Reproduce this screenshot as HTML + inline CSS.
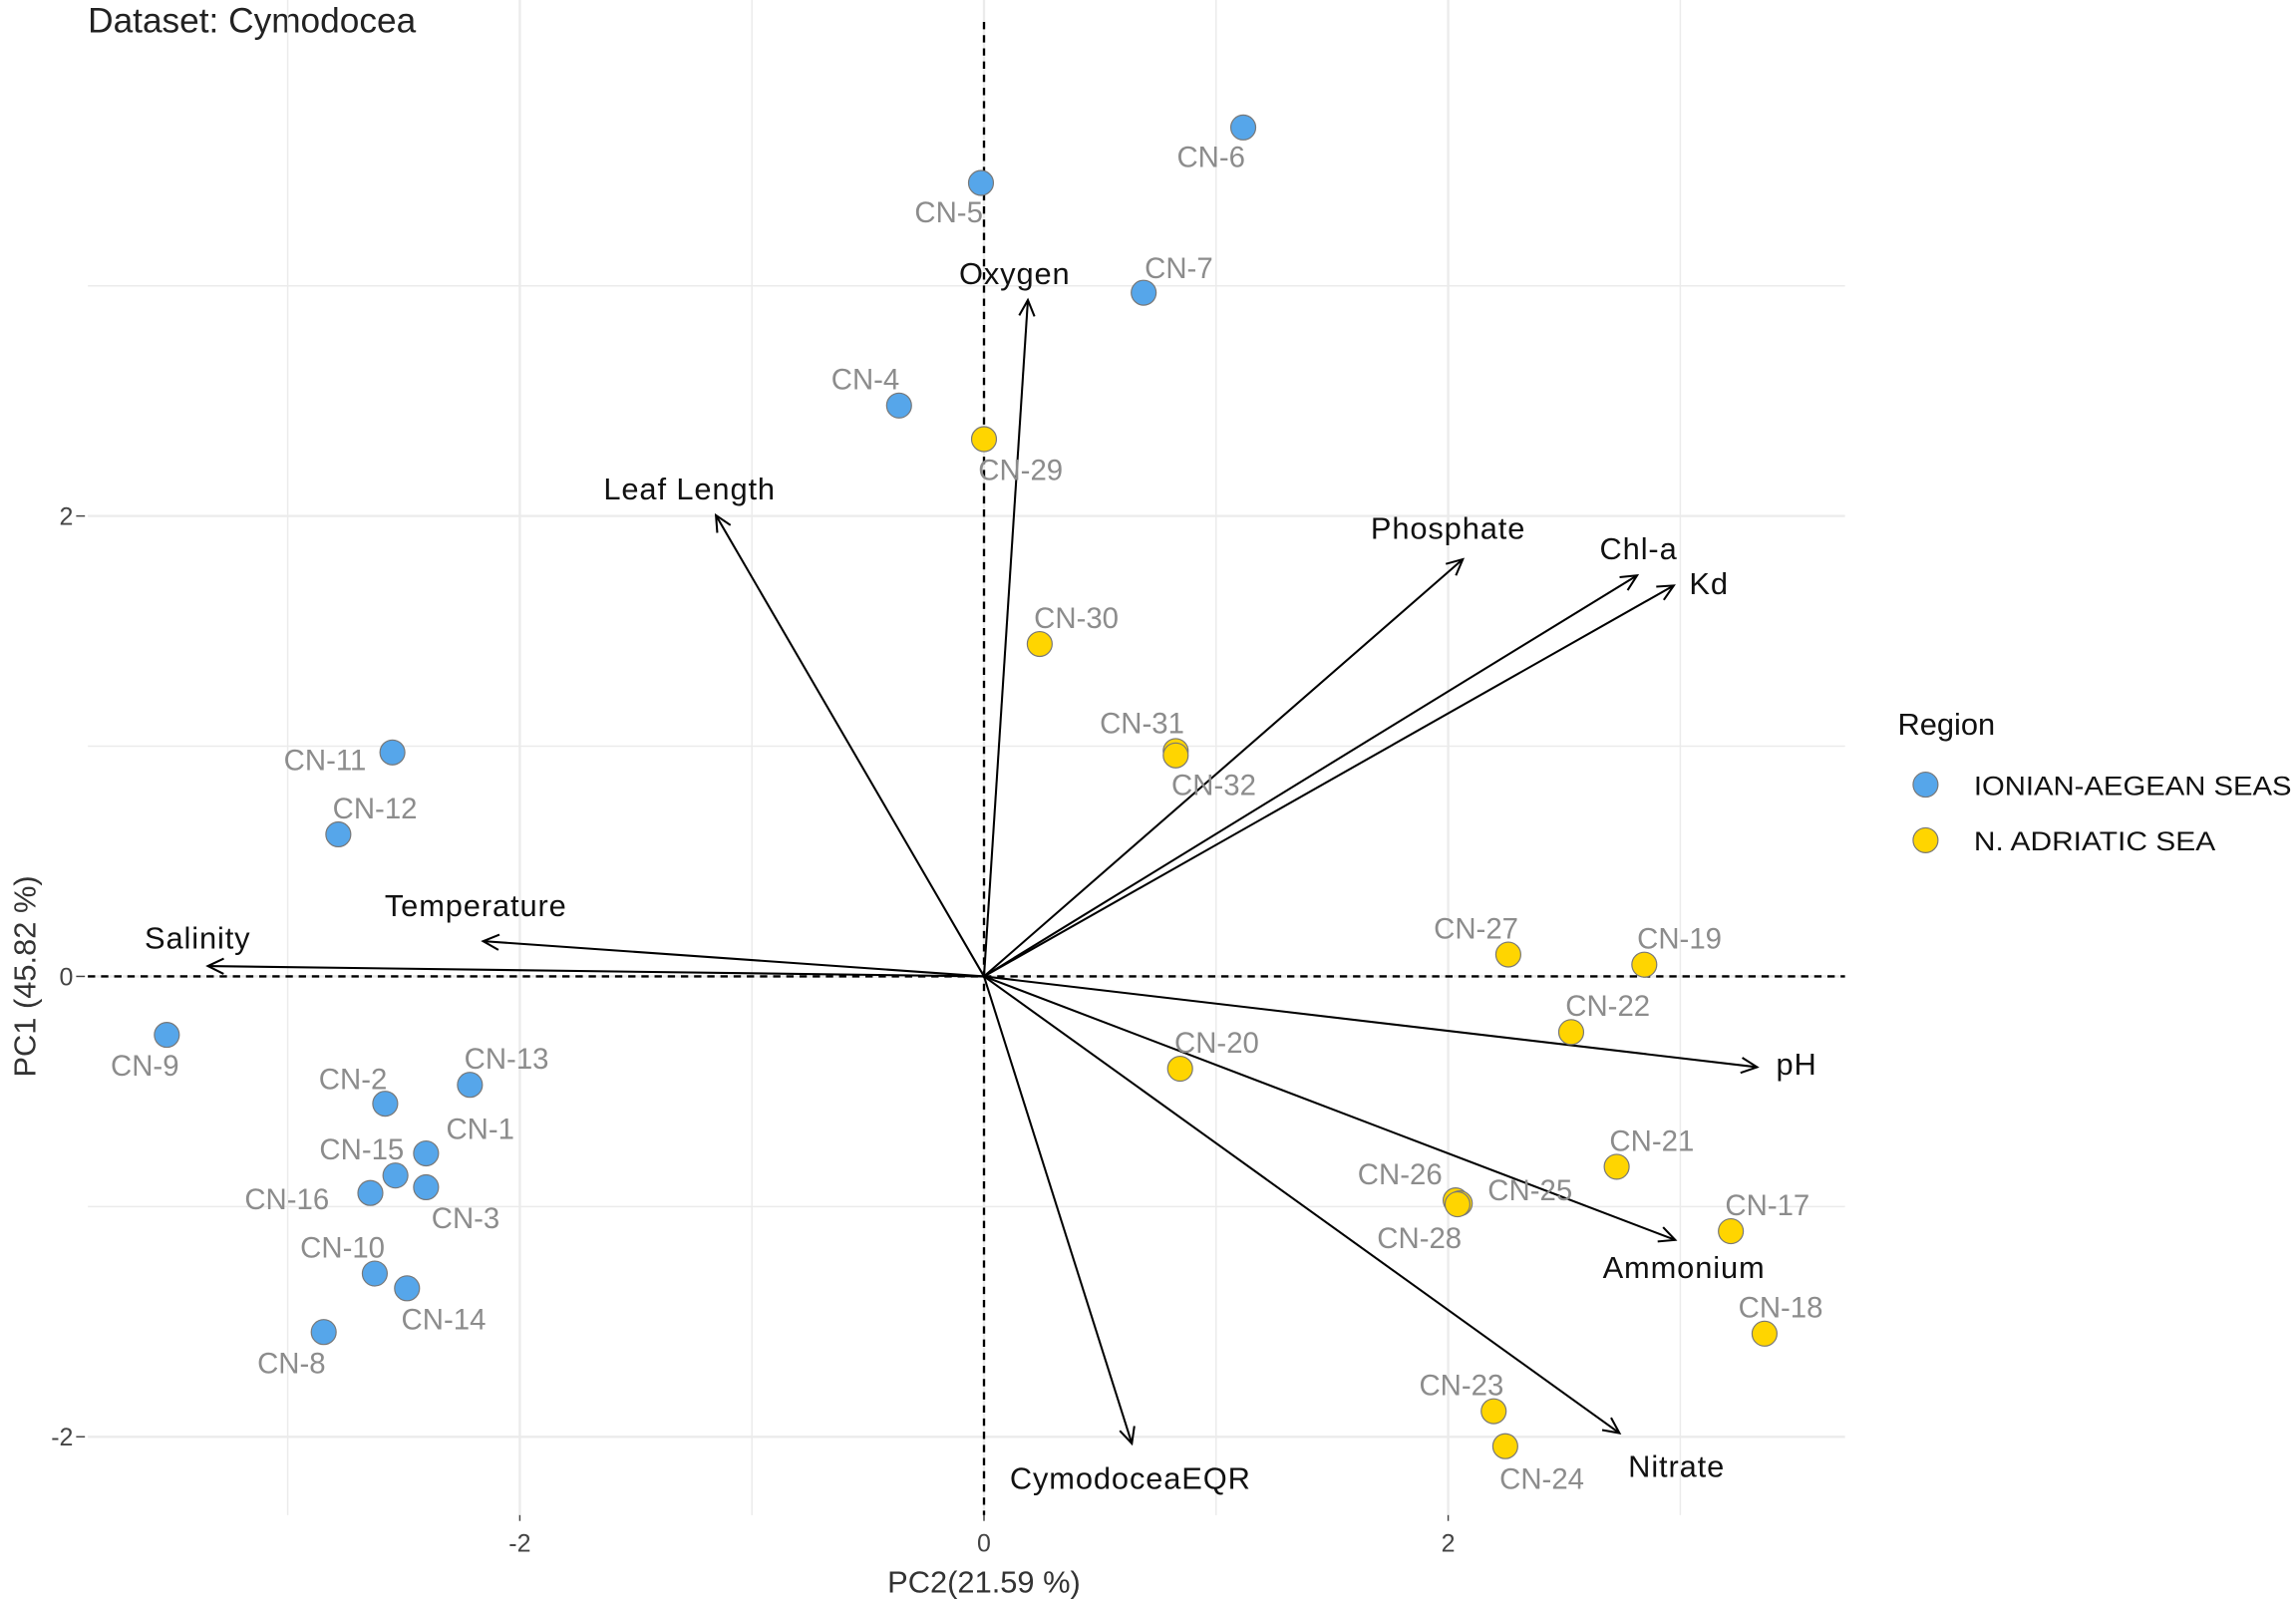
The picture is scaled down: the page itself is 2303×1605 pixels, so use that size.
<!DOCTYPE html>
<html><head><meta charset="utf-8"><style>
html,body{margin:0;padding:0;background:#fff;}
svg{display:block;font-family:"Liberation Sans",sans-serif;}
</style></head><body>
<svg id="chart" width="2303" height="1605" viewBox="0 0 1568 1093" preserveAspectRatio="none" xmlns="http://www.w3.org/2000/svg">
<text x="60" y="22" font-size="24" fill="#222">Dataset: Cymodocea</text>
<g id="grid"></g>
<g id="axes"></g>
<g id="arrows"></g>
<g id="points"></g>
<text x="672" y="1088" font-size="21" fill="#333" text-anchor="middle">PC2(21.59 %)</text>
<text transform="translate(24,667) rotate(-90)" font-size="21" fill="#333" text-anchor="middle">PC1 (45.82 %)</text>
<g>
<text x="1296" y="502" font-size="21" fill="#111">Region</text>
<g>
<circle cx="1315" cy="536" r="8.5" fill="#56a6ea" stroke="#777" stroke-width="0.8"/>
<text x="1348" y="543" font-size="18.5" fill="#111" textLength="217" lengthAdjust="spacingAndGlyphs">IONIAN-AEGEAN SEAS</text></g>
<g>
<circle cx="1315" cy="574" r="8.5" fill="#ffd500" stroke="#777" stroke-width="0.8"/>
<text x="1348" y="581" font-size="18.5" fill="#111" textLength="165" lengthAdjust="spacingAndGlyphs">N. ADRIATIC SEA</text></g>
</g>
</svg>
<script>
const sampleNames=["CN-6","CN-5","CN-7","CN-4","CN-11","CN-12","CN-9","CN-13","CN-2","CN-1","CN-15","CN-3","CN-16","CN-10","CN-14","CN-8","CN-29","CN-30","CN-31","CN-32","CN-27","CN-19","CN-22","CN-20","CN-21","CN-26","CN-25","CN-28","CN-17","CN-18","CN-23","CN-24"];
const samplePC2=[1.117,-0.013,0.688,-0.366,-2.549,-2.782,-3.521,-2.215,-2.580,-2.404,-2.536,-2.404,-2.644,-2.625,-2.486,-2.845,0.0,0.240,0.826,0.826,2.259,2.845,2.530,0.845,2.726,2.032,2.050,2.040,3.218,3.363,2.196,2.246];
const samplePC1=[3.688,3.447,2.970,2.480,0.973,0.617,-0.254,-0.471,-0.553,-0.769,-0.865,-0.916,-0.941,-1.291,-1.355,-1.545,2.334,1.444,0.979,0.960,0.095,0.051,-0.242,-0.401,-0.827,-0.973,-0.986,-0.990,-1.107,-1.552,-1.889,-2.041];
const sampleRegion=["I","I","I","I","I","I","I","I","I","I","I","I","I","I","I","I","A","A","A","A","A","A","A","A","A","A","A","A","A","A","A","A"];
const labelDx=[-22,-22,24,-23,-46,25,-15,25,-22,37,-23,27,-57,-22,25,-22,25,25,-23,26,-22,24,25,25,24,-38,48,-26,25,11,-22,25];
const labelDy=[20,20,-17,-18,5,-18,21,-18,-17,-17,-18,21,4,-18,21,21,21,-18,-19,20,-18,-18,-18,-18,-18,-18,-9,23,-18,-18,-18,22];
const varNames=["Oxygen","Leaf Length","Phosphate","Chl-a","Kd","Temperature","Salinity","pH","Ammonium","Nitrate","CymodoceaEQR"];
const varPC2=[0.189,-1.155,2.063,2.814,2.972,-2.158,-3.344,3.331,2.978,2.738,0.637];
const varPC1=[2.938,2.003,1.812,1.742,1.698,0.153,0.045,-0.394,-1.145,-1.984,-2.029];
const varLabDx=[-9,-18,-10,1,24,-5,-7,27,6,39,-1];
const varLabDy=[-12,-12,-15,-12,5,-18,-13,4,25,29,30];
const xTicks=[-2,0,2];
const yTicks=[-2,0,2];

const NS="http://www.w3.org/2000/svg";
const X0=672,XS=158.5,Y0=667,YS=157.25;
const xs=v=>X0+v*XS, ys=v=>Y0-v*YS;
const PL=60,PR=1260,PT=0,PB=1035;
function mk(tag,attrs,parent){const e=document.createElementNS(NS,tag);for(const k in attrs)e.setAttribute(k,attrs[k]);parent.appendChild(e);return e;}
const grid=document.getElementById('grid'),axes=document.getElementById('axes'),arrows=document.getElementById('arrows'),pts=document.getElementById('points');
for(let v=-3;v<=3;v++){
  const gx=mk('line',{x1:xs(v),x2:xs(v),y1:PT,y2:PB,stroke:'#ebebeb','stroke-width':v%2?1:1.6},grid);
  
  
}
for(let v=-2;v<=3;v++){
  const gy=mk('line',{x1:PL,x2:PR,y1:ys(v),y2:ys(v),stroke:'#ebebeb','stroke-width':v%2?1:1.6},grid);
  
  
}
const dv=mk('line',{x1:xs(0),x2:xs(0),y1:15,y2:PB,stroke:'#000','stroke-width':1.6,'stroke-dasharray':'5,4'},axes);


const dh=mk('line',{x1:PL,x2:PR,y1:ys(0),y2:ys(0),stroke:'#000','stroke-width':1.6,'stroke-dasharray':'5,4'},axes);


xTicks.forEach(t=>{
  const tx=mk('text',{x:xs(t),y:1060,'font-size':17,fill:'#444','text-anchor':'middle'},axes);tx.textContent=t;
  
  
  mk('line',{x1:xs(t),x2:xs(t),y1:PB,y2:PB+4,stroke:'#444'},axes);
});
yTicks.forEach(t=>{
  const ty=mk('text',{x:50,y:ys(t)+6,'font-size':17,fill:'#444','text-anchor':'end'},axes);ty.textContent=t;
  
  
  mk('line',{x1:52,x2:58,y1:ys(t),y2:ys(t),stroke:'#444'},axes);
});
varNames.forEach((n,i)=>{
  const x2=xs(varPC2[i]),y2=ys(varPC1[i]);
  const g=mk('g',{},arrows);
  
  
  mk('line',{x1:X0,y1:Y0,x2:x2,y2:y2,stroke:'#000','stroke-width':1.4},g);
  const a=Math.atan2(y2-Y0,x2-X0),L=12,w=0.45;
  mk('polyline',{points:`${x2-L*Math.cos(a-w)},${y2-L*Math.sin(a-w)} ${x2},${y2} ${x2-L*Math.cos(a+w)},${y2-L*Math.sin(a+w)}`,fill:'none',stroke:'#000','stroke-width':1.4},g);
  const t=mk('text',{x:x2+varLabDx[i],y:y2+varLabDy[i]+1,'font-size':21,fill:'#111','text-anchor':'middle','letter-spacing':'0.6'},g);t.textContent=n;
});
sampleNames.forEach((n,i)=>{
  const cx=xs(samplePC2[i]),cy=ys(samplePC1[i]);
  const g=mk('g',{},pts);
  
  
  mk('circle',{cx:cx,cy:cy,r:8.5,fill:sampleRegion[i]==='I'?'#56a6ea':'#ffd500',stroke:'#777','stroke-width':0.8},g);
  const t=mk('text',{x:cx+labelDx[i],y:cy+labelDy[i]+7,'font-size':20,fill:'#8c8c8c','text-anchor':'middle'},g);t.textContent=n;
});
</script>
</body></html>
